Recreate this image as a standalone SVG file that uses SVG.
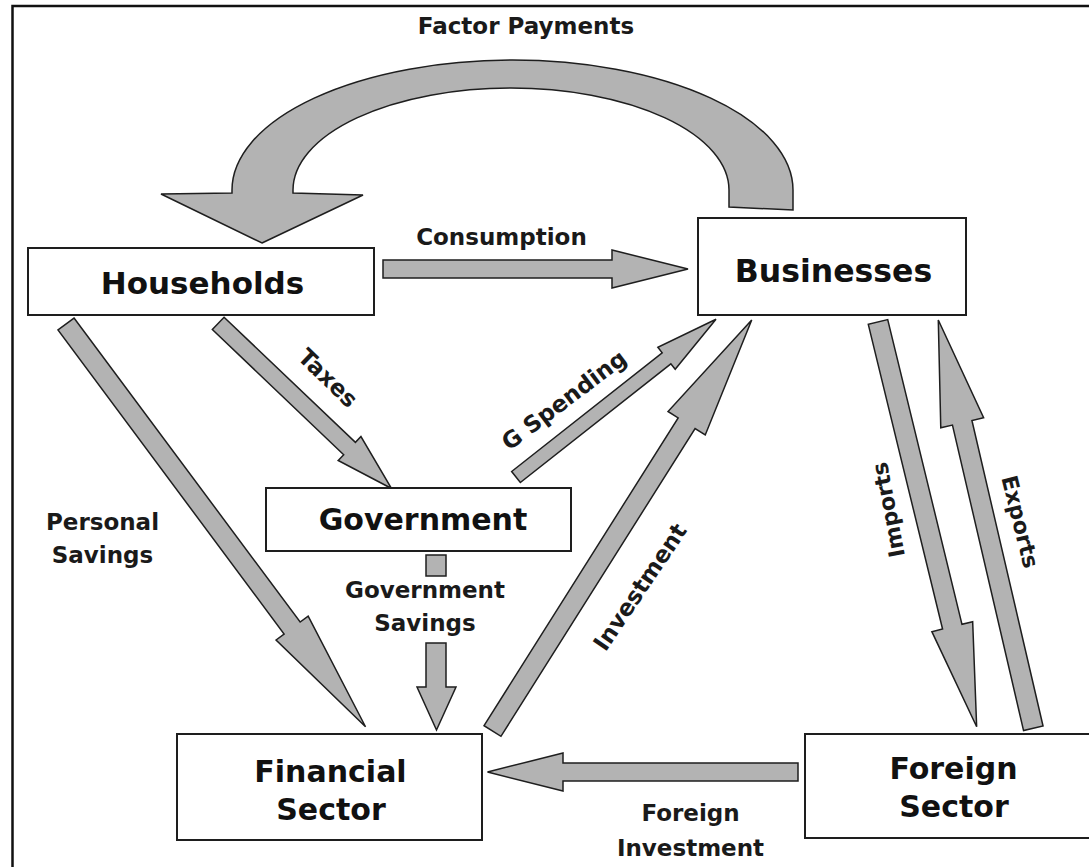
<svg xmlns="http://www.w3.org/2000/svg" width="1089" height="867" viewBox="0 0 1089 867">
<style>
.box{fill:#fff;stroke:#1e1e1e;stroke-width:2}
.arr{fill:#b3b3b3;stroke:#1e1e1e;stroke-width:1.5;stroke-linejoin:miter}
.nt{font-family:"DejaVu Sans",Verdana,sans-serif;font-weight:bold;fill:#111;text-anchor:middle}
.lb{font-family:"DejaVu Sans",Verdana,sans-serif;font-weight:bold;font-size:23px;fill:#1a1a1a;text-anchor:middle}
</style>
<rect x="0" y="0" width="1089" height="867" fill="#fff"/>
<rect x="12.5" y="6" width="1095" height="885" fill="none" stroke="#111" stroke-width="2.5"/>

<g id="connectors">
  <path id="factor-payments" class="arr" d="M262,243 L363,195 L293,193 L293,190 A218,102 0 0 1 729,190 L729,207 L793,210 L793,190 A280.5,130 0 0 0 232,190 L232,193 L161,194 Z"/>
  <polygon id="consumption" class="arr" points="383,260 612,260 612,250 688,269 612,288 612,278 383,278"/>
  <polygon id="personal-savings" class="arr" transform="translate(66,324) rotate(53.36)" points="0,-10 378.9,-10 378.9,-20 501.9,0 378.9,20 378.9,10 0,10"/>
  <polygon id="taxes" class="arr" transform="translate(218.2,323.4) rotate(43.6)" points="0,-8.5 181.4,-8.5 181.4,-16.5 239.4,0 181.4,16.5 181.4,8.5 0,8.5"/>
  <polygon id="g-spending" class="arr" transform="translate(516,477) rotate(-38.26)" points="0,-7 191.7,-7 191.7,-14 254.7,0 191.7,14 191.7,7 0,7"/>
  <polygon id="investment" class="arr" transform="translate(492.5,731) rotate(-57.76)" points="0,-10 363.9,-10 363.9,-22 485.9,0 363.9,22 363.9,10 0,10"/>
  <polygon id="imports" class="arr" transform="translate(878,322) rotate(76.3)" points="0,-10 313.6,-10 313.6,-21 416.6,0 313.6,21 313.6,10 0,10"/>
  <polygon id="exports" class="arr" transform="translate(1033.3,728.3) rotate(-103.1)" points="0,-10 313.7,-10 313.7,-22 419.2,0 313.7,22 313.7,10 0,10"/>
  <rect id="gov-savings-stub" class="arr" x="426" y="555" width="20" height="21"/>
  <polygon id="gov-savings" class="arr" points="426,643 446,643 446,687 456,687 436.5,730 417,687 426,687"/>
  <polygon id="foreign-investment" class="arr" points="798,763 563,763 563,753 487.5,772 563,791 563,781 798,781"/>

  <text class="lb" x="526" y="34">Factor Payments</text>
  <text class="lb" x="501.5" y="245">Consumption</text>
  <text class="lb" x="102.5" y="530">Personal</text>
  <text class="lb" x="102.5" y="563">Savings</text>
  <text class="lb" x="425" y="598">Government</text>
  <text class="lb" x="425" y="631">Savings</text>
  <text class="lb" x="690.5" y="821">Foreign</text>
  <text class="lb" x="690.5" y="856">Investment</text>
  <text class="lb" transform="translate(328,378) rotate(44)" x="0" y="8">Taxes</text>
  <text class="lb" transform="translate(564,400) rotate(-37)" x="0" y="8">G Spending</text>
  <text class="lb" transform="translate(640,587) rotate(-56)" x="0" y="8">Investment</text>
  <text class="lb" style="font-size:22px" transform="translate(888,510) rotate(-101)" x="0" y="8">Imports</text>
  <text class="lb" style="font-size:22px" transform="translate(1020.5,521.7) rotate(76)" x="0" y="8">Exports</text>
</g>

<g id="households">
  <rect class="box" x="28" y="248" width="346" height="67"/>
  <text class="nt" x="202.5" y="294" font-size="31">Households</text>
</g>
<g id="businesses">
  <rect class="box" x="698" y="218" width="268" height="97"/>
  <text class="nt" x="833.5" y="282" font-size="31.5">Businesses</text>
</g>
<g id="government">
  <rect class="box" x="266" y="488" width="305" height="63"/>
  <text class="nt" x="423" y="530" font-size="30">Government</text>
</g>
<g id="financial-sector">
  <rect class="box" x="177" y="734" width="305" height="106"/>
  <text class="nt" x="330.5" y="782" font-size="30">Financial</text>
  <text class="nt" x="331" y="820" font-size="30">Sector</text>
</g>
<g id="foreign-sector">
  <rect class="box" x="805" y="734" width="300" height="104"/>
  <text class="nt" x="953.5" y="779" font-size="30">Foreign</text>
  <text class="nt" x="954" y="817" font-size="30">Sector</text>
</g>
</svg>
